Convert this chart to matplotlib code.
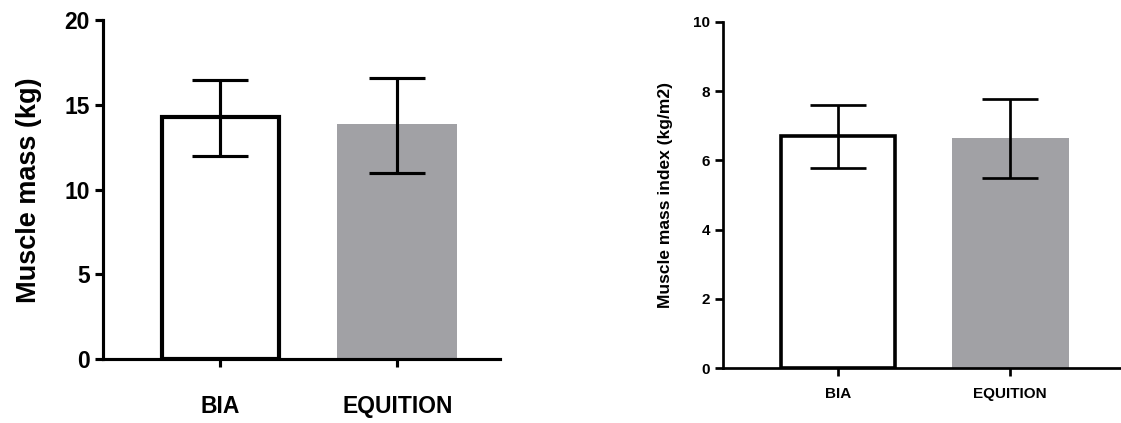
import matplotlib.pyplot as plt

groups = ["BIA", "EQUITION"]

# left panel: muscle mass (kg)
mass_mean = [14.3, 13.9]
mass_low = [12.0, 11.0]
mass_high = [16.5, 16.6]

# right panel: muscle mass index (kg/m2)
index_mean = [6.70, 6.65]
index_low = [5.78, 5.48]
index_high = [7.60, 7.77]

font_list = ["Liberation Sans Narrow", "Liberation Sans", "DejaVu Sans"]
bar_gray = "#a1a1a5"


def draw_panel(ax, means, lows, highs, ymax, yticks, ylabel, tick_fs, label_fs, lw, xlim):
    x = list(range(len(groups)))
    ax.bar(x[0], means[0], width=0.66, color="white", edgecolor="black", linewidth=lw, zorder=2)
    ax.bar(x[1], means[1], width=0.68, color=bar_gray, edgecolor="none", zorder=2)
    err = [[m - l for m, l in zip(means, lows)], [h - m for m, h in zip(means, highs)]]
    ax.errorbar(x, means, yerr=err, fmt="none", ecolor="black", elinewidth=lw * 0.75,
                capsize=20, capthick=lw * 0.75, zorder=3)
    ax.set_ylim(0, ymax)
    ax.set_xlim(*xlim)
    ax.set_yticks(yticks)
    ax.set_xticks(x)
    ax.set_xticklabels(groups, family=font_list, fontweight="bold", fontsize=tick_fs)
    for t in ax.get_yticklabels():
        t.set_family(font_list)
        t.set_fontweight("bold")
        t.set_fontsize(tick_fs)
    ax.set_ylabel(ylabel, family=["Liberation Sans", "DejaVu Sans"], fontweight="bold",
                  fontsize=label_fs)
    for s in ["top", "right"]:
        ax.spines[s].set_visible(False)
    for s in ["left", "bottom"]:
        ax.spines[s].set_linewidth(lw * 0.75)
    ax.tick_params(direction="out", length=6, width=lw * 0.75)


fig = plt.figure(figsize=(11.21, 4.23), dpi=100)

ax1 = fig.add_axes([0.092, 0.151, 0.354, 0.801])
draw_panel(ax1, mass_mean, mass_low, mass_high, 20, [0, 5, 10, 15, 20],
           "Muscle mass (kg)", 16.5, 19.5, 3.0, (-0.66, 1.58))
ax1.tick_params(axis="x", pad=20)
ax1.yaxis.labelpad = 16

ax2 = fig.add_axes([0.645, 0.130, 0.355, 0.818])
draw_panel(ax2, index_mean, index_low, index_high, 10, [0, 2, 4, 6, 8, 10],
           "Muscle mass index (kg/m2)", 11, 12.5, 2.6, (-0.67, 1.645))
ax2.tick_params(axis="x", pad=8)
ax2.yaxis.labelpad = 14

fig.savefig("out.png", dpi=100)
